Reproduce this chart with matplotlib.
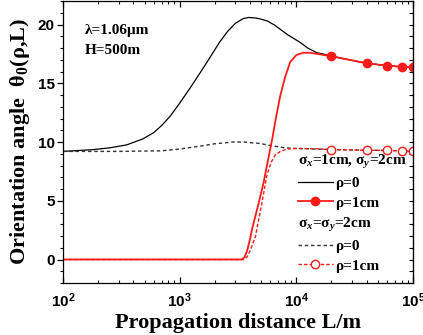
import matplotlib
matplotlib.use("Agg")
import matplotlib.pyplot as plt
from matplotlib.lines import Line2D
from matplotlib.ticker import MultipleLocator, LogLocator, NullFormatter

plt.rcParams['mathtext.fontset'] = 'custom'
plt.rcParams['mathtext.rm'] = 'Liberation Serif:bold'
plt.rcParams['mathtext.it'] = 'Liberation Serif:italic:bold'
plt.rcParams['mathtext.bf'] = 'Liberation Serif:bold'

# sigma_x=1cm, sigma_y=2cm, rho=0
L_a0 = [100, 180, 250, 350, 480, 600, 700, 830, 1000, 1230, 1500, 1820, 2200, 2570, 3000,
        3500, 3900, 4500, 5000, 5640, 6500, 7500, 8500, 10700, 12500, 15000, 18600,
        20000, 30000, 40000, 60000, 80000, 100000]
v_a0 = [9.2, 9.35, 9.5, 9.75, 10.25, 10.8, 11.4, 12.2, 13.3, 14.6, 15.9, 17.2, 18.5, 19.4, 20.1,
        20.5, 20.6, 20.55, 20.45, 20.3, 19.95, 19.5, 19.1, 18.5, 18.0, 17.6, 17.4,
        17.3, 16.95, 16.7, 16.5, 16.4, 16.35]

# sigma_x=1cm, sigma_y=2cm, rho=1cm
L_a1 = [100, 1000, 3400, 3600, 3800, 4000, 4200, 4700, 5230, 5700, 6200, 6700, 7270, 8000,
        8850, 10000, 11500, 13000, 15000, 20000, 30000, 40000, 60000, 80000, 100000]
v_a1 = [0, 0, 0, 0.2, 0.8, 1.7, 2.7, 4.6, 6.5, 8.4, 10.2, 12.1, 13.9, 15.5,
        16.8, 17.4, 17.6, 17.6, 17.5, 17.3, 16.95, 16.7, 16.5, 16.4, 16.35]

# sigma_x=sigma_y=2cm, rho=0
L_b0 = [100, 300, 700, 1000, 1500, 2000, 2900, 3500, 4000, 4900, 6000, 8000, 10000,
        15000, 20000, 40000, 60000, 80000, 100000]
v_b0 = [9.2, 9.2, 9.25, 9.4, 9.65, 9.85, 10.0, 10.0, 9.95, 9.87, 9.7, 9.5, 9.45,
        9.4, 9.36, 9.3, 9.28, 9.25, 9.2]

# sigma_x=sigma_y=2cm, rho=1cm
L_b1 = [100, 1000, 3600, 3800, 4000, 4450, 5000, 5600, 6100, 6600, 7300, 8300, 10000,
        15000, 20000, 40000, 60000, 80000, 100000]
v_b1 = [0, 0, 0, 0.25, 0.7, 1.9, 4.5, 7.2, 8.3, 8.9, 9.2, 9.4, 9.45,
        9.42, 9.36, 9.3, 9.28, 9.25, 9.2]

marker_L = [20000, 40000, 60000, 80000, 100000]

fig = plt.figure(figsize=(4.23, 3.35), dpi=100)
ax = fig.add_axes([63/423, 1 - 283/335, 350/423, 282/335])

red = '#ff1a1a'
ax.plot(L_a0, v_a0, color='black', lw=0.9)
ax.plot(L_b0, v_b0, color='#333333', lw=1.0, ls=(0, (2.5, 2)))
ax.plot(L_b1, v_b1, color=red, lw=1.0, ls=(0, (2.5, 1.5)),
        marker='o', markersize=6, markerfacecolor='white', markeredgecolor=red,
        markevery=[L_b1.index(x) for x in marker_L])
ax.plot(L_a1, v_a1, color=red, lw=1.3,
        marker='o', markersize=6, markerfacecolor=red, markeredgecolor=red,
        markevery=[L_a1.index(x) for x in marker_L])

ax.set_xscale('log')
ax.set_xlim(100, 100000)
ax.set_ylim(-2, 22)
ax.yaxis.set_major_locator(MultipleLocator(5))
ax.yaxis.set_minor_locator(MultipleLocator(1))
ax.xaxis.set_major_locator(LogLocator(base=10, numticks=10))
ax.xaxis.set_minor_locator(LogLocator(base=10, subs=range(2, 10), numticks=10))
ax.xaxis.set_minor_formatter(NullFormatter())

ax.tick_params(axis='both', which='both', top=True, right=True)
ax.tick_params(axis='x', which='both', direction='in')
ax.tick_params(axis='y', which='both', direction='out')
ax.tick_params(which='major', length=4, width=0.9)
ax.tick_params(which='minor', length=2.5, width=0.8)
for lab in ax.get_xticklabels() + ax.get_yticklabels():
    lab.set_fontfamily('Liberation Sans')
    lab.set_fontweight('bold')
    lab.set_fontsize(11)
ax.tick_params(axis='x', pad=6)
ax.tick_params(axis='y', pad=2)
for s in ax.spines.values():
    s.set_linewidth(0.9)

# right spine ticks inward
ax2 = ax.secondary_yaxis('right')
ax2.yaxis.set_major_locator(MultipleLocator(1))
ax2.tick_params(direction='in', length=3, labelright=False)
ax.tick_params(axis='y', which='both', right=False)

serif = {'family': 'Liberation Serif', 'weight': 'bold'}
ax.set_xlabel('Propagation distance L/m', fontdict=serif, fontsize=16, labelpad=2)
ax.set_ylabel('Orientation angle  θ$_0$(ρ,L)', fontdict=serif, fontsize=16, labelpad=4)

ax.text(0.063, 0.897, 'λ=1.06μm', transform=ax.transAxes, fontdict=serif, fontsize=11, va='center')
ax.text(0.063, 0.826, 'H=500m', transform=ax.transAxes, fontdict=serif, fontsize=11, va='center')

inv = Line2D([], [], lw=0, alpha=0)
handles = [inv,
           Line2D([], [], color='black', lw=0.9),
           Line2D([], [], color=red, lw=1.3, marker='o', markersize=6, markerfacecolor=red),
           inv,
           Line2D([], [], color='#333333', lw=1.0, ls=(0, (2.5, 2))),
           Line2D([], [], color=red, lw=1.0, ls=(0, (2.5, 1.5)), marker='o', markersize=6,
                  markerfacecolor='white', markeredgecolor=red)]
labels = ['σ$_x$=1cm, σ$_y$=2cm', 'ρ=0', 'ρ=1cm', 'σ$_x$=σ$_y$=2cm', 'ρ=0', 'ρ=1cm']
leg = ax.legend(handles, labels, loc='upper left', bbox_to_anchor=(0.671, 0.462),
                frameon=False, borderpad=0, borderaxespad=0, handlelength=2.3,
                handletextpad=0.15, labelspacing=0.38,
                prop={'family': 'Liberation Serif', 'weight': 'bold', 'size': 11})
fig.canvas.draw()
for i in (0, 3):
    t = leg.get_texts()[i]
    shift = (2.3 + 0.15) * 11 * 100 / 72
    t.set_x(-shift)

fig.savefig('out.png', dpi=100)
